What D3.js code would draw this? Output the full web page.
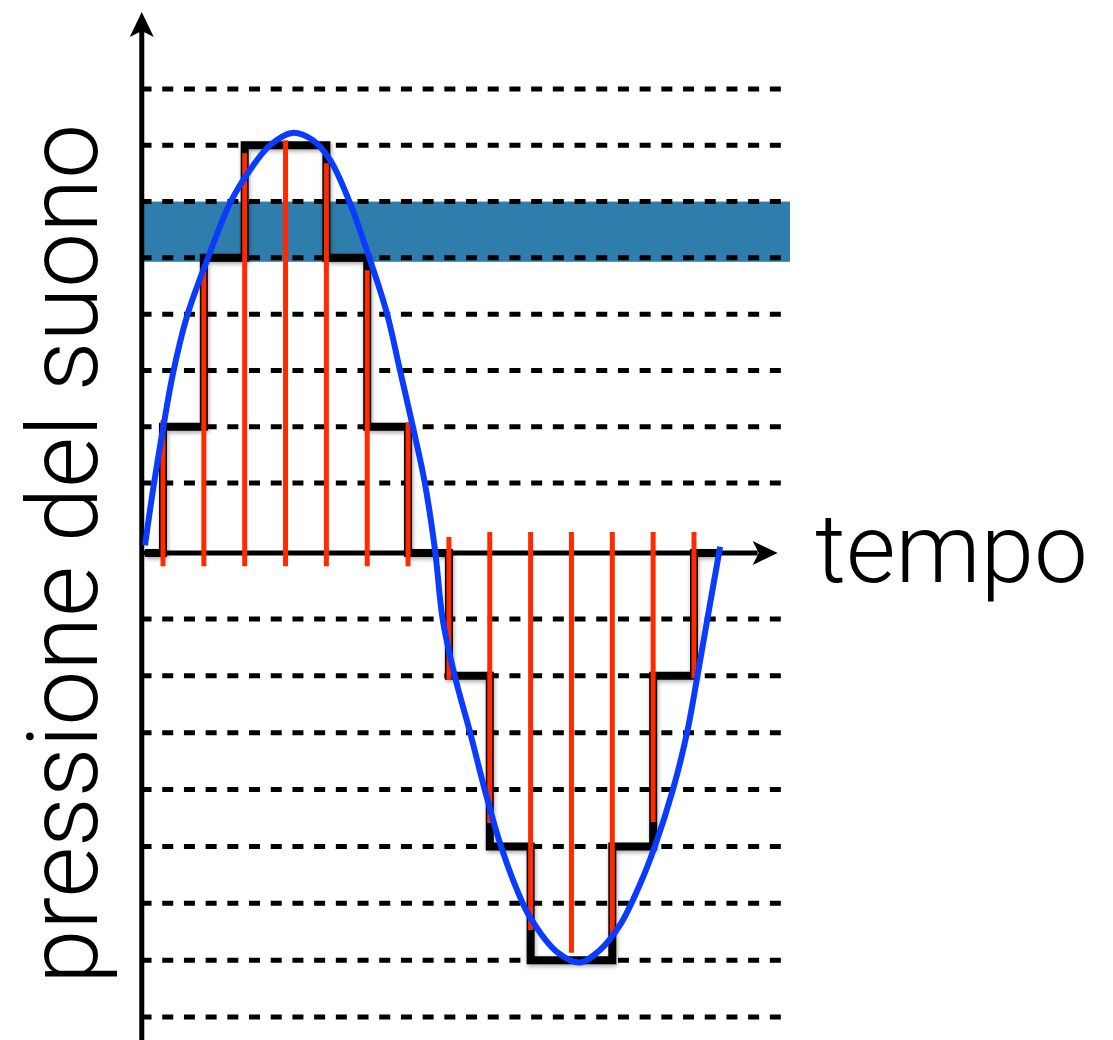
<!DOCTYPE html>
<html>
<head>
<meta charset="utf-8">
<script src="https://cdn.jsdelivr.net/npm/d3@7"></script>
<style>
html,body{margin:0;padding:0;background:#fff;}
svg{display:block;}
</style>
</head>
<body>
<script>
// ---- data (time in sample periods, pressure in quantisation levels) ----
const levels = [8, 7, 6, 5, 4, 3, 2, 1, -1, -2, -3, -4, -5, -6, -7, -8];
const bandLevels = [4.93, 6];
const sampleTimes = [0, 1, 2, 3, 4, 5, 6, 7, 8, 9, 10, 11, 12, 13];
const sampleValues = [2.12, 4.84, 6.86, 7.09, 6.68, 4.78, 2.08, -2.07, -4.59, -6.47, -6.87, -6.59, -4.57, -2.04];
const sampleBases = [-0.2, -0.2, -0.2, -0.2, -0.2, -0.2, -0.2, 0.23, 0.3, 0.3, 0.3, 0.3, 0.3, 0.3];
const stepTimes = [-0.44, 0, 1, 2, 3, 4, 5, 6, 7, 8, 9, 10, 11, 12, 13, 13.56];
const stepLevels = [0, 2, 5, 7, 7, 5, 2, 0, -2, -5, -7, -7, -5, -2, 0, 0];
const waveTimes = [-0.44, -0.24, 0, 0.24, 0.59, 1.08, 1.64, 2.13, 2.62, 3.16, 3.67, 4.09, 4.58, 5.07, 5.48, 5.80, 6.12, 6.41, 6.66, 6.85, 7.15, 7.52, 7.88, 8.25, 8.67, 8.98, 9.65, 10.21, 10.70, 11.19, 11.68, 12.04, 12.48, 12.83, 13.07, 13.32, 13.64];
const waveValues = [0.11, 0.92, 1.96, 2.93, 3.97, 4.96, 5.97, 6.56, 7.00, 7.22, 7.09, 6.74, 5.97, 4.96, 4.02, 3.01, 1.99, 1.00, 0.04, -1.02, -2.02, -3.00, -4.01, -4.94, -5.77, -6.24, -6.86, -7.04, -6.82, -6.38, -5.66, -5.00, -4.01, -3.00, -2.06, -1.03, 0.09];
const axisTimeRange = [-0.52, 15.0];
const gridTimeRange = [-0.55, 15.35];
const yLabel = "pressione del suono";
const xLabel = "tempo";

const W = 1113, H = 1040;
const svg = d3.select("body").append("svg").attr("width", W).attr("height", H);

const x = d3.scaleLinear().domain([0, 13]).range([163, 694]);
const y = d3.scaleLinear().domain([-8, -1, 0, 1, 8]).range([1017, 619, 553, 483, 89]);

const defs = svg.append("defs");
const f = defs.append("filter").attr("id", "shadow").attr("x", "-20%").attr("y", "-20%").attr("width", "140%").attr("height", "140%");
f.append("feDropShadow").attr("dx", 1).attr("dy", 2).attr("stdDeviation", 2).attr("flood-color", "#000").attr("flood-opacity", 0.35);

// band
svg.append("rect")
  .attr("x", x(axisTimeRange[0]) + 2)
  .attr("y", y(bandLevels[1]))
  .attr("width", x(gridTimeRange[1]) - x(axisTimeRange[0]) - 2)
  .attr("height", y(bandLevels[0]) - y(bandLevels[1]))
  .attr("fill", "#2e7dac");

// dashed level lines
svg.append("g").selectAll("line").data(levels).join("line")
  .attr("x1", x(gridTimeRange[0])).attr("x2", x(gridTimeRange[1]))
  .attr("y1", d => y(d)).attr("y2", d => y(d))
  .attr("stroke", "#000").attr("stroke-width", 5)
  .attr("stroke-dasharray", "11,10.7");

// axes
const x0 = x(axisTimeRange[0]), y0 = y(0), xEnd = x(axisTimeRange[1]);
svg.append("line").attr("x1", x0).attr("x2", x0).attr("y1", H).attr("y2", 30)
  .attr("stroke", "#000").attr("stroke-width", 5);
svg.append("path")
  .attr("d", `M${x0},12 L${x0 + 12},37 L${x0},31 L${x0 - 12},37 Z`).attr("fill", "#000");
svg.append("line").attr("x1", x0).attr("x2", xEnd - 18).attr("y1", y0).attr("y2", y0)
  .attr("stroke", "#000").attr("stroke-width", 5);
svg.append("path")
  .attr("d", `M${xEnd + 2},${y0} L${xEnd - 23},${y0 - 12} L${xEnd - 17},${y0} L${xEnd - 23},${y0 + 12} Z`).attr("fill", "#000");

// quantised step signal
const stepData = stepTimes.map((t, i) => ({t, v: stepLevels[i]}));
svg.append("path")
  .datum(stepData)
  .attr("d", d3.line().x(d => x(d.t)).y(d => y(d.v)).curve(d3.curveStepAfter))
  .attr("fill", "none").attr("stroke", "#000").attr("stroke-width", 8)
  .attr("stroke-linejoin", "miter").attr("filter", "url(#shadow)");

// samples
svg.append("g").selectAll("line").data(sampleTimes).join("line")
  .attr("x1", d => x(d)).attr("x2", d => x(d))
  .attr("y1", (d, i) => y(sampleBases[i])).attr("y2", (d, i) => y(sampleValues[i]))
  .attr("stroke", "#ff2a00").attr("stroke-width", 5);

// analog wave
const waveData = waveTimes.map((t, i) => ({t, v: waveValues[i]}));
svg.append("path")
  .datum(waveData)
  .attr("d", d3.line().x(d => x(d.t)).y(d => y(d.v)).curve(d3.curveCatmullRom))
  .attr("fill", "none").attr("stroke", "#0a3cff").attr("stroke-width", 6)
  .attr("stroke-linecap", "butt");

// labels
const font = "'Helvetica Neue', Roboto, 'Liberation Sans', sans-serif";
svg.append("text")
  .attr("transform", `translate(97,${y(0) + 1}) rotate(-90)`)
  .attr("text-anchor", "middle")
  .attr("font-family", font).attr("font-weight", 300).attr("font-size", 98)
  .attr("fill", "#000")
  .text(yLabel);
svg.append("text")
  .attr("x", 815).attr("y", 582)
  .attr("font-family", font).attr("font-weight", 300).attr("font-size", 96)
  .attr("fill", "#000")
  .text(xLabel);
</script>
</body>
</html>
